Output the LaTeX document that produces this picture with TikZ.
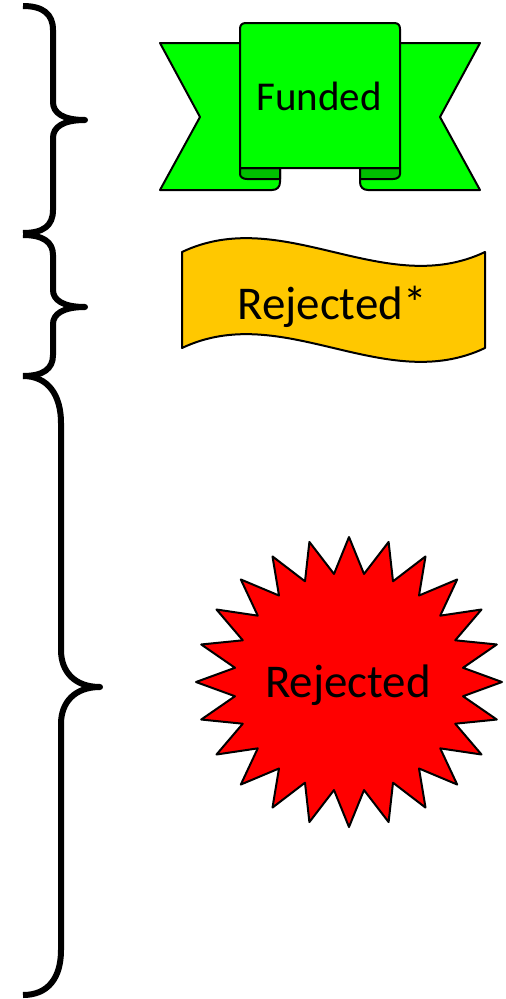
\documentclass[tikz,border=0pt]{standalone}
\usepackage{fontspec}
\setmainfont{Carlito}
\definecolor{fundGreen}{HTML}{00FF00}
\definecolor{foldGreen}{HTML}{00BF00}
\definecolor{warnGold}{HTML}{FFC800}
\definecolor{rejectRed}{HTML}{FF0000}
\begin{document}
\begin{tikzpicture}[
    x=1pt,y=-1pt,
    curly/.style={draw,line width=6pt,line join=round},
    outline/.style={draw=black,line width=2pt,line join=round},
    ribbon/.style={outline,fill=fundGreen},
    fold/.style={outline,fill=foldGreen},
    wave/.style={outline,fill=warnGold},
    burst/.style={outline,fill=rejectRed},
    stamptext/.style={anchor=base,inner sep=0pt,font=\fontsize{47}{56}\selectfont}
  ]
    \useasboundingbox (0,0) rectangle (506,999);
    % braces on the left
    \draw[curly] (23,6) .. controls (43,6) and (53,14) .. (53,30) -- (53,102)
      .. controls (53,113) and (63,120) .. (85,120) .. controls (63,120) and (53,127) .. (53,138)
      -- (53,210) .. controls (53,226) and (43,233) .. (23,233);
    \draw[curly] (23,235) .. controls (43,235) and (53,242) .. (53,255) -- (53,290)
      .. controls (53,300) and (63,307) .. (85,307) .. controls (63,307) and (53,314) .. (53,324)
      -- (53,355) .. controls (53,369) and (43,376) .. (23,376);
    \draw[curly] (23,376) .. controls (48,376) and (61,395) .. (61,423) -- (61,650)
      .. controls (61,672) and (75,687) .. (100,687) .. controls (75,687) and (61,702) .. (61,724)
      -- (61,950) .. controls (61,978) and (48,995) .. (23,995);
    % ribbon
    \foreach \flip/\offs in {1/0,-1/640}{
      \begin{scope}[shift={(\offs,0)},xscale=\flip]
        \draw[ribbon] (160,43) -- (250,43) -- (250,168) -- (280,168) -- (280,182)
          .. controls (280,187) and (277,190) .. (272,190) -- (160,190) -- (200,117) -- cycle;
        \draw[fold] (240,168) -- (280,168) -- (280,179) -- (247,179)
          .. controls (243,179) and (240,177) .. (240,174) -- cycle;
      \end{scope}
    }
    \draw[ribbon] (240,168) -- (240,29) .. controls (240,25) and (242,23) .. (246,23) -- (394,23)
      .. controls (398,23) and (400,25) .. (400,29) -- (400,168) -- cycle;
    \node[stamptext,font=\fontsize{41}{49}\selectfont] (funded) at (319,110) {Funded};
    % wave
    \draw[wave] (182,252) .. controls (283,204) and (384,300) .. (485,252) -- (485,348)
      .. controls (384,396) and (283,300) .. (182,348) -- cycle;
    \node[stamptext] (rejstar) at (332,319) {Rejected*};
    % burst
    \draw[burst] (502,682) \foreach \k in {0,...,23}{
        -- ({349+115*cos(\k*15+7.5)},{682+109*sin(\k*15+7.5)})
        -- ({349+153*cos(\k*15+15)},{682+145*sin(\k*15+15)})
      } -- cycle;
    \node[stamptext] (rejected) at (348,697) {Rejected};
  \end{tikzpicture}
\end{document}
